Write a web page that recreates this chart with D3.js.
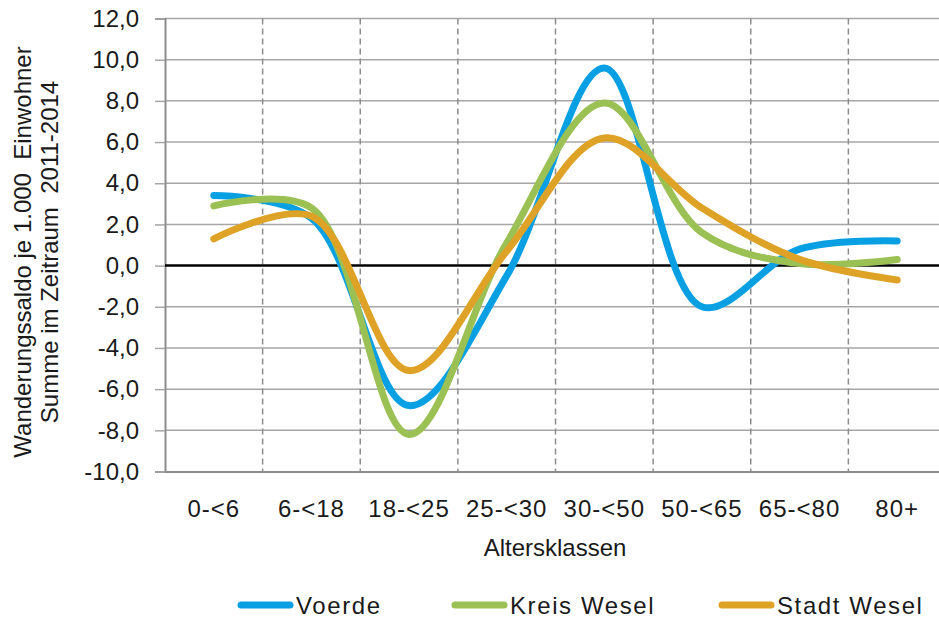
<!DOCTYPE html>
<html>
<head>
<meta charset="utf-8">
<script src="https://cdn.jsdelivr.net/npm/d3@7"></script>
<style>
  body { margin: 0; background: #fff; }
  svg { display: block; font-family: 'Liberation Sans', Arial, sans-serif; }
</style>
</head>
<body>
<svg id="chart"></svg>
<script>
const categories = ['0-<6', '6-<18', '18-<25', '25-<30', '30-<50', '50-<65', '65-<80', '80+'];
const voerde = [3.4, 2.3, -6.8, -0.5, 9.6, -2.0, 0.8, 1.2];
const kreisWesel = [2.9, 2.8, -8.2, 1.1, 7.9, 1.6, 0.1, 0.3];
const stadtWesel = [1.3, 2.4, -5.1, 0.7, 6.2, 2.8, 0.3, -0.7];
const yTicks = [-10, -8, -6, -4, -2, 0, 2, 4, 6, 8, 10, 12];

const series = [
  {name: 'Voerde', values: voerde, color: '#08a0e2'},
  {name: 'Kreis Wesel', values: kreisWesel, color: '#9bc053'},
  {name: 'Stadt Wesel', values: stadtWesel, color: '#dea227'}
];

const width = 939, height = 623;
const plotLeft = 165, plotRight = 946, plotTop = 18.5, plotBottom = 471.5;

const svg = d3.select('#chart')
  .attr('width', width)
  .attr('height', height);

const x = d3.scaleBand()
  .domain(categories)
  .range([plotLeft, plotRight])
  .padding(0);

const y = d3.scaleLinear()
  .domain([-10, 12])
  .range([plotBottom, plotTop]);

const fmt = v => d3.format('.1f')(v).replace('.', ',').replace('−', '-');

// horizontal grid
svg.append('g')
  .selectAll('line')
  .data(yTicks.filter(d => d !== 0 && d !== -10))
  .enter().append('line')
  .attr('x1', plotLeft).attr('x2', plotRight)
  .attr('y1', d => y(d)).attr('y2', d => y(d))
  .attr('stroke', '#a6a6a6')
  .attr('stroke-width', 1.5);

// vertical dashed grid at category boundaries
svg.append('g')
  .selectAll('line')
  .data(categories.slice(1))
  .enter().append('line')
  .attr('x1', d => x(d)).attr('x2', d => x(d))
  .attr('y1', plotTop).attr('y2', plotBottom)
  .attr('stroke', '#8c8c8c')
  .attr('stroke-width', 1.5)
  .attr('stroke-dasharray', '6,4');

// y axis
const yAxis = svg.append('g')
  .attr('transform', `translate(${plotLeft},0)`)
  .call(d3.axisLeft(y).tickValues(yTicks).tickSize(10).tickPadding(16).tickFormat(fmt));
yAxis.select('.domain').attr('stroke', '#8c8c8c').attr('stroke-width', 2);
yAxis.selectAll('.tick line').attr('stroke', '#a6a6a6').attr('stroke-width', 1.5);
yAxis.selectAll('.tick text')
  .attr('font-size', 24)
  .attr('fill', '#1a1a1a')
  .attr('font-family', "'Liberation Sans', Arial, sans-serif");

// x axis
const xAxis = svg.append('g')
  .attr('transform', `translate(0,${plotBottom})`)
  .call(d3.axisBottom(x).tickSize(0).tickPadding(28));
xAxis.select('.domain').attr('stroke', '#8c8c8c').attr('stroke-width', 2);
xAxis.selectAll('.tick text')
  .attr('font-size', 24)
  .attr('letter-spacing', 1)
  .attr('fill', '#1a1a1a')
  .attr('font-family', "'Liberation Sans', Arial, sans-serif");

// zero line
svg.append('line')
  .attr('x1', plotLeft).attr('x2', plotRight)
  .attr('y1', y(0)).attr('y2', y(0))
  .attr('stroke', '#000')
  .attr('stroke-width', 2.5);

// lines
const line = d3.line()
  .x((d, i) => x(categories[i]) + x.bandwidth() / 2)
  .y(d => y(d))
  .curve(d3.curveCatmullRom.alpha(0.5));

svg.append('g')
  .selectAll('path')
  .data(series)
  .enter().append('path')
  .attr('d', d => line(d.values))
  .attr('fill', 'none')
  .attr('stroke', d => d.color)
  .attr('stroke-width', 7)
  .attr('stroke-linecap', 'round')
  .attr('stroke-linejoin', 'round');

// axis titles
svg.append('text')
  .attr('x', 555)
  .attr('y', 556)
  .attr('text-anchor', 'middle')
  .attr('font-size', 24)
  .attr('fill', '#1a1a1a')
  .text('Altersklassen');

const yTitle = svg.append('text')
  .attr('transform', 'translate(0,252) rotate(-90)')
  .attr('text-anchor', 'middle')
  .attr('font-size', 24)
  .attr('fill', '#1a1a1a');
yTitle.append('tspan').attr('x', 0).attr('y', 31).attr('xml:space', 'preserve').text('Wanderungssaldo je 1.000  Einwohner');
yTitle.append('tspan').attr('x', 0).attr('y', 58).attr('xml:space', 'preserve').text('Summe im Zeitraum  2011-2014');

// legend
const legendX = [238, 452, 719];
const legend = svg.append('g')
  .selectAll('g')
  .data(series)
  .enter().append('g')
  .attr('transform', (d, i) => `translate(${legendX[i]},605)`);
legend.append('line')
  .attr('x1', 3).attr('x2', 52)
  .attr('stroke', d => d.color)
  .attr('stroke-width', 7)
  .attr('stroke-linecap', 'round');
legend.append('text')
  .attr('x', 58)
  .attr('y', 8.5)
  .attr('font-size', 24)
  .attr('letter-spacing', 1.6)
  .attr('fill', '#1a1a1a')
  .text(d => d.name);
</script>
</body>
</html>
